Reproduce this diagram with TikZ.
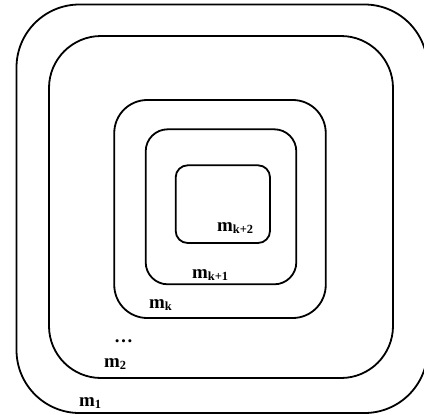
\documentclass[tikz,border=0pt]{standalone}
\usepackage{fontspec}
\setmainfont{Liberation Serif}
\usetikzlibrary{positioning}
\newcommand{\msub}[1]{\raisebox{-2.5bp}{\fontsize{12.5}{12.5}\selectfont #1}}

\begin{document}
\begin{tikzpicture}[
    x=1bp, y=-1bp,
    ring/.style={draw, line width=1.8bp, outer sep=0pt, inner sep=0pt},
    mlabel/.style={anchor=base west, inner sep=0pt, font=\fontsize{19}{19}\selectfont\bfseries},
]
\useasboundingbox (0,0) rectangle (424,415);
\clip (0,0) rectangle (424,415);

% ============ nested regions ============
\node[ring, minimum width=411bp, minimum height=408.5bp, rounded corners=63bp] (m1) at (222, 208.75) {};
\node[ring, minimum width=344bp, minimum height=342bp, rounded corners=52bp] (m2) at (221, 207) {};
\node[ring, minimum width=211.5bp, minimum height=218bp, rounded corners=33bp] (mk) at (220, 209) {};
\node[ring, minimum width=150.6bp, minimum height=155bp, rounded corners=22bp] (mk1) at (221, 206.8) {};
\node[ring, minimum width=94.3bp, minimum height=77.7bp, rounded corners=12bp] (mk2) at (222.85, 204.15) {};

% ============ labels ============
\node[mlabel] (l_mk2) at (217, 231) {m\msub{k+2}};
\node[mlabel] (l_mk1) at (192, 278) {m\msub{k+1}};
\node[mlabel] (l_mk) at (149, 308) {m\msub{k}};
\node[mlabel] (l_dots) at (114, 342) {\dots};
\node[mlabel] (l_m2) at (104, 367) {m\msub{2}};
\node[mlabel] (l_m1) at (79, 406) {m\msub{1}};

\end{tikzpicture}
\end{document}
